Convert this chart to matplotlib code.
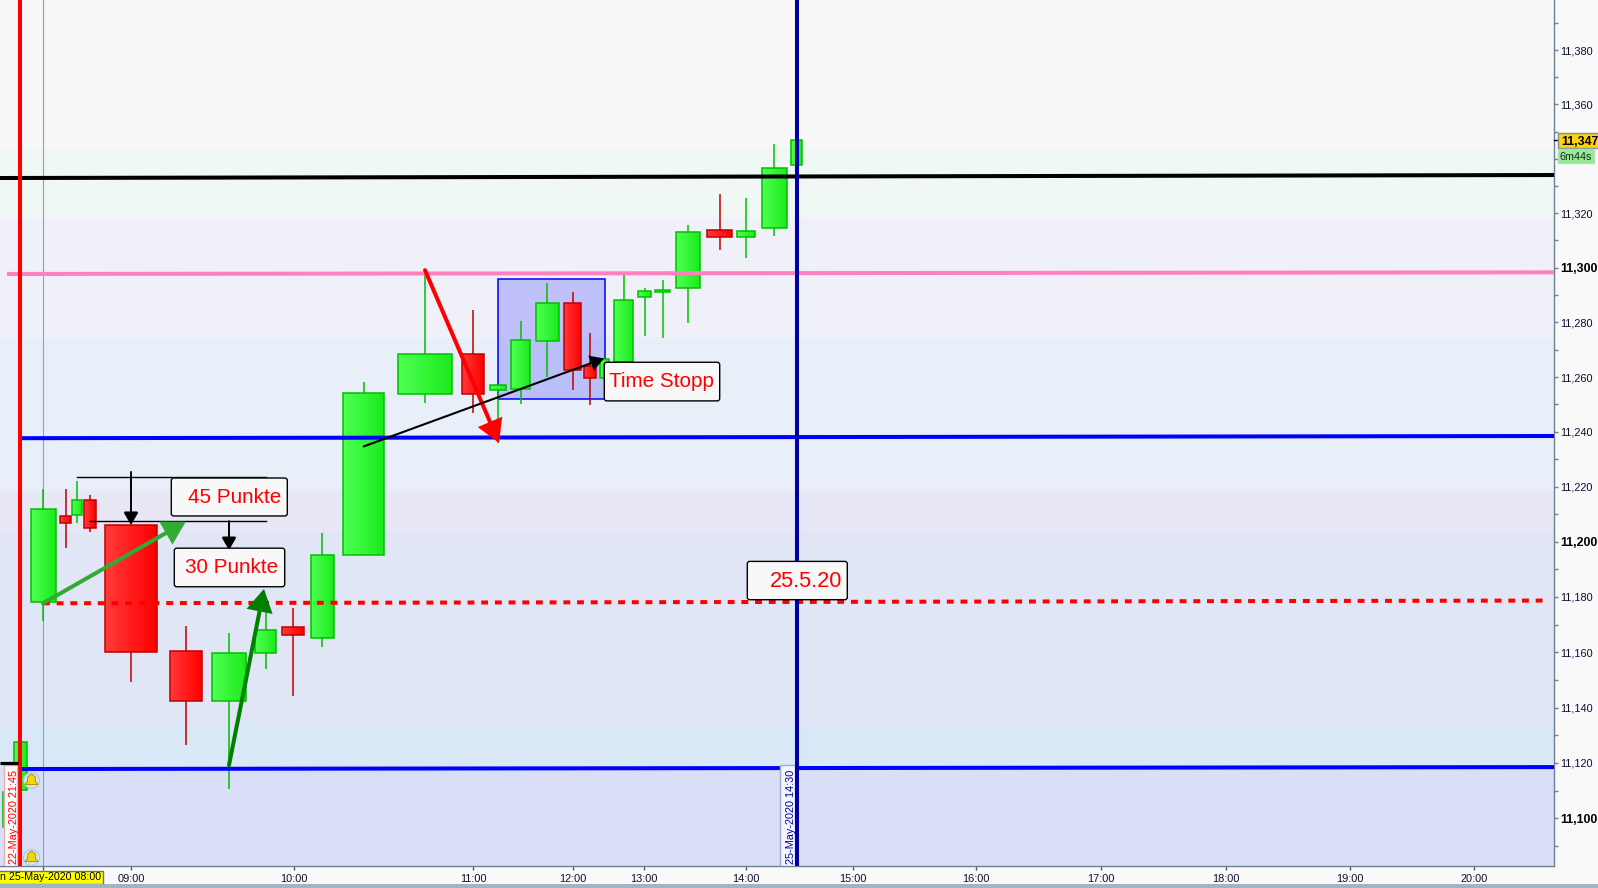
import numpy as np
import matplotlib
matplotlib.use("Agg")
import matplotlib.pyplot as plt
from matplotlib.patches import Rectangle, FancyBboxPatch, FancyArrowPatch
from matplotlib.path import Path
from matplotlib.colors import to_rgb
from matplotlib.ticker import NullFormatter

plt.rcParams['font.family'] = ['Liberation Sans', 'DejaVu Sans']

# equivolume bars: left / right edge on the volume axis
bar_left = [14, 31, 60, 72, 84, 105, 170, 212, 255, 282, 310.5, 343, 398, 462, 490, 511, 536, 564, 584, 599.5, 614, 638, 655, 676, 707, 737, 762, 791]
bar_right = [26.7, 55.7, 71, 82, 96, 157, 202, 246, 276, 304, 334, 384, 451.7, 484, 505.7, 530, 558.7, 581, 596, 609, 633, 651, 670, 700, 732, 755, 786.7, 802]
bar_up = [1, 1, 0, 1, 0, 0, 0, 1, 1, 0, 1, 1, 1, 0, 1, 1, 1, 0, 0, 1, 1, 1, 1, 1, 0, 1, 1, 1]
body_top = [11127.6, 11212, 11209.4, 11215.3, 11215.3, 11206.1, 11160.3, 11159.7, 11168, 11169, 11195.4, 11254.2, 11268.4, 11268.4, 11257.1, 11273.5, 11287, 11287, 11264, 11266.5, 11288.1, 11291.4, 11291.9, 11313.1, 11313.8, 11313.4, 11336.6, 11346.9]
body_bot = [11110.3, 11178.1, 11206.9, 11209.8, 11205, 11159.9, 11142.4, 11142.5, 11159.7, 11166.2, 11165, 11195.3, 11253.9, 11253.9, 11255.4, 11255.8, 11273.2, 11262.7, 11259.8, 11259.8, 11265.5, 11289.2, 11291, 11292.6, 11311.3, 11311.3, 11314.7, 11337.8]
wick_high = [11127.6, 11219.3, 11219.3, 11222.1, 11217.1, 11206.1, 11169.4, 11167, 11179, 11176, 11203.2, 11258.2, 11299.2, 11284.5, 11257.1, 11280.5, 11294.3, 11291, 11276, 11266.5, 11297.2, 11292.5, 11295.4, 11315.6, 11327.1, 11325.6, 11345.4, 11346.9]
wick_low = [11110.3, 11171.2, 11197.7, 11206.9, 11203.6, 11149.1, 11126.5, 11110.6, 11153.9, 11144, 11161.9, 11195.3, 11250.6, 11246.9, 11236, 11250.2, 11260, 11255.3, 11249.8, 11259.8, 11265.5, 11274.9, 11274.2, 11279.7, 11306.5, 11303.7, 11311.6, 11337.8]

# background zones
band_lo = [11082.9, 11118.1, 11134.4, 11203.9, 11218.4, 11274.2, 11318.2, 11344.3]
band_hi = [11118.1, 11134.4, 11203.9, 11218.4, 11274.2, 11318.2, 11344.3, 11398.5]
band_col = ['#D8DFF7', '#D8E8F7', '#E0E6F5', '#E8E7F5', '#E9EFF8', '#F0F0F9', '#F0F8F6', '#F8F8F8']

tick_pos = [43.3, 131, 293.5, 473, 572.7, 644, 746.3, 852.6, 976, 1101, 1225.6, 1350, 1474]
tick_lab = ['', '09:00', '10:00', '11:00', '12:00', '13:00', '14:00', '15:00', '16:00', '17:00', '18:00', '19:00', '20:00']
price_labelled = [11100, 11120, 11140, 11160, 11180, 11200, 11220, 11240, 11260, 11280, 11300, 11320, 11340, 11360, 11380]
price_hidden = [11340]
price_bold = [11100, 11200, 11300]
price_minor = [11090, 11110, 11130, 11150, 11170, 11190, 11210, 11230, 11250, 11270, 11290, 11310, 11330, 11350, 11370, 11390]

fig = plt.figure(figsize=(15.98, 8.88), dpi=100, facecolor='#F9F9F9')
ax = fig.add_axes([0, 22 / 888, 1554 / 1598, 866 / 888])
ax.set_yscale('log')
X0, X1 = 0, 1554
Y0, Y1 = 11082.9, 11398.5

for lo, hi, c in zip(band_lo, band_hi, band_col):
    ax.axhspan(lo, hi, color=c, lw=0, zorder=0)

# candles
green = ('#4DFF52', '#1CEB1C', '#00C000')
red = ('#FF3838', '#FF0000', '#C00000')
for i in range(len(bar_left)):
    c_l, c_r, edge = green if bar_up[i] else red
    mid = (bar_left[i] + bar_right[i]) / 2
    ax.plot([mid, mid], [wick_low[i], wick_high[i]], color=edge, lw=1.1, zorder=2, solid_capstyle='butt')
    n = 16
    cols = np.linspace(to_rgb(c_l), to_rgb(c_r), n).reshape(1, n, 3)
    ax.pcolormesh(np.linspace(bar_left[i], bar_right[i], n + 1), [body_bot[i], body_top[i]], cols, zorder=3)
    ax.add_patch(Rectangle((bar_left[i], body_bot[i]), bar_right[i] - bar_left[i], body_top[i] - body_bot[i],
                           fill=False, ec=edge, lw=1.1, zorder=3.1))

# stray wick of the bar before
ax.plot([2.5, 2.5], [11097, 11109.6], color='#00C000', lw=1.1, zorder=2)

# selection box
ax.add_patch(Rectangle((498, 11252), 106.7, 43.8, fc=(0, 0, 1, 0.2), ec='#0000FF', lw=1.1, zorder=1.5))

# horizontal levels
ax.plot([0, 1554], [11332.9, 11334], color='black', lw=2.9, zorder=5, solid_capstyle='butt')
ax.plot([7, 1554], [11297.7, 11298.3], color='#FF80C0', lw=2.9, zorder=5, solid_capstyle='butt')
ax.plot([20, 1554], [11237.7, 11238.5], color='#0000FF', lw=2.9, zorder=5, solid_capstyle='butt')
ax.plot([20, 1554], [11117.8, 11118.5], color='#0000FF', lw=2.9, zorder=5, solid_capstyle='butt')
ax.plot([43, 1548], [11177.7, 11178.7], color='#FF0000', lw=2.9, zorder=5, dashes=(1.7, 1.7))

# verticals
ax.plot([20, 20], [Y0, Y1], color='#FF0000', lw=2.9, zorder=6, solid_capstyle='butt')
ax.plot([797, 797], [Y0, Y1], color='#0000A8', lw=2.9, zorder=5.5, solid_capstyle='butt')
ax.plot([43.3, 43.3], [Y0, Y1], color='#8899EE', lw=0.8, zorder=1)

# thin measuring lines
ax.plot([77, 266], [11223.5, 11223.5], color='black', lw=1, zorder=6)
ax.plot([90, 266], [11207.5, 11207.5], color='black', lw=1, zorder=6)


def arrow(x0, p0, x1, p1, color, lw, head):
    ax.add_patch(FancyArrowPatch((x0, p0), (x1, p1), arrowstyle='-|>,head_length=0.55,head_width=0.32',
                                 mutation_scale=head, color=color, lw=lw, shrinkA=0, shrinkB=0, zorder=7,
                                 joinstyle='miter'))


arrow(43, 11177.7, 185.7, 11207.3, '#33AA33', 2.9, 22)
arrow(229, 11119.2, 264, 11182.9, '#008000', 2.9, 22)
arrow(425, 11299.1, 499, 11236, '#FF0000', 2.9, 22)
arrow(363.7, 11234.7, 604, 11266.8, 'black', 1.5, 14)
arrow(131, 11225.4, 131, 11206.1, 'black', 1.4, 14)
arrow(229, 11207.5, 229, 11197, 'black', 1.4, 14)


def note(x0, x1, p_top, p_bot, txt, tx, fs=14.9):
    ax.add_patch(FancyBboxPatch((x0, p_bot), x1 - x0, p_top - p_bot,
                                boxstyle='round,pad=0,rounding_size=2.5', mutation_aspect=0.365,
                                fc='#F8F8F8', ec='black', lw=1, zorder=8))
    ax.text(tx, (p_top + p_bot) / 2 + 0.6, txt, color='#FF0000', fontsize=fs, ha='right', va='center_baseline', zorder=9)


note(171.3, 287.3, 11223.2, 11209.4, '45 Punkte', 281)
note(174.3, 284.7, 11197.7, 11183.7, '30 Punkte', 278.3)
note(604.3, 719.7, 11265.4, 11251.3, 'Time Stopp', 714)
note(747.3, 847.3, 11192.9, 11179, '25.5.20', 842, fs=15.7)

# date flags on the verticals
ax.add_patch(Rectangle((3.5, Y0), 13.5, 11119.2 - Y0, fc='#FBFBFB', ec='#E8B0B0', lw=1, zorder=6))
ax.text(14, Y0 + 0.7, '22-May-2020 21:45', color='#FF0000', fontsize=7.8, rotation=90, ha='center', va='bottom', zorder=7)
ax.plot([0, 18], [11120, 11120], color='black', lw=2.3, zorder=6, solid_capstyle='butt')
ax.add_patch(Rectangle((780.3, Y0), 15, 11119.2 - Y0, fc='#F4F6FC', ec='#A0A8D8', lw=1, zorder=5.2))
ax.text(791, Y0 + 0.7, '25-May-2020 14:30', color='#0000A0', fontsize=7.8, rotation=90, ha='center', va='bottom', zorder=7)

# bell markers
bell = Path([(-0.9, -0.55), (-0.55, -0.2), (-0.5, 0.5), (0, 0.9), (0.5, 0.5), (0.55, -0.2), (0.9, -0.55), (-0.9, -0.55)], closed=True)
for py in [11113.8, 11086.1]:
    ax.plot([30.7], [py], 'o', ms=11.5, mfc='#D5E2EC', mec='#B0C4D0', mew=0.7, zorder=7)
    ax.plot([30.7], [py], marker=bell, ms=9.5, mfc='#F5D800', mec='#A88C00', mew=0.6, zorder=8)

ax.set_xlim(X0, X1)
ax.set_ylim(Y0, Y1)

for s in ['top', 'left']:
    ax.spines[s].set_visible(False)
for s in ['right', 'bottom']:
    ax.spines[s].set_color('#708090')
    ax.spines[s].set_linewidth(1)

ax.set_xticks(tick_pos)
ax.set_xticklabels(tick_lab, fontsize=7.9, color='#101030')
ax.tick_params(axis='x', length=3, width=1, color='#505A66', pad=3)

ax.yaxis.tick_right()
ax.set_yticks(price_labelled)
ax.set_yticklabels([f'{p:,}' if p not in price_hidden else '' for p in price_labelled], fontsize=7.9, color='#101030')
ax.set_yticks(price_minor, minor=True)
ax.yaxis.set_minor_formatter(NullFormatter())
ax.tick_params(axis='y', which='both', length=3, width=1, color='#708090', pad=1.5)
for lab, p in zip(ax.get_yticklabels(), price_labelled):
    if p in price_bold:
        lab.set_fontweight('bold')
        lab.set_fontsize(8.9)
        lab.set_color('black')

# last price tags at the right
ax.plot([1554, 1558], [11347, 11347], color='black', lw=1, clip_on=False, zorder=9)
ax.add_patch(Rectangle((1558.3, 11343.8), 45, 5.7, fc='#FFD400', ec='#7F8FA0', lw=1, clip_on=False, zorder=10))
ax.text(1561, 11346.3, '11,347', fontsize=8.9, fontweight='bold', color='black', va='center', clip_on=False, zorder=11)
ax.add_patch(Rectangle((1558.3, 11338.3), 36, 5.4, fc='#98E898', ec='#B0E0B0', lw=1, clip_on=False, zorder=10))
ax.text(1560, 11340.7, '6m44s', fontsize=7.8, color='#103010', va='center', clip_on=False, zorder=11)

# start date flag on the time axis
xt = ax.get_xaxis_transform()
ax.add_patch(Rectangle((-2, -0.0054), 105.3, -0.0154, transform=xt, fc='#FFFF00', ec='#707070', lw=1,
                       clip_on=False, zorder=10))
ax.text(101, -0.0131, 'n 25-May-2020 08:00', transform=xt, fontsize=7.7, color='black',
        ha='right', va='center', clip_on=False, zorder=11)

# window strip along the bottom
fig.add_artist(Rectangle((0, 0), 1, 4 / 888, transform=fig.transFigure, fc='#9DB5C5', ec='none'))

fig.savefig('out.png', dpi=100, facecolor=fig.get_facecolor())
